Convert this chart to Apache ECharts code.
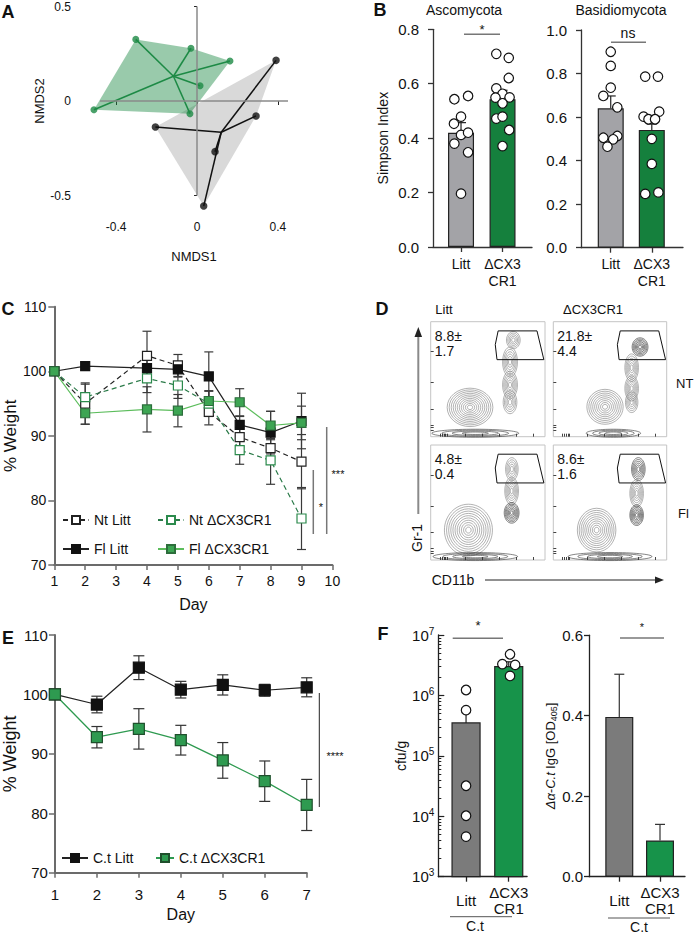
<!DOCTYPE html>
<html><head><meta charset="utf-8">
<script src="https://cdn.jsdelivr.net/npm/echarts@6/dist/echarts.min.js"></script>
<style>html,body{margin:0;padding:0;background:#fff}#c{width:694px;height:935px}</style>
</head><body><div id="c"></div>
<script>
// ================= DATA =================
// Panel A: NMDS ordination (NMDS1, NMDS2)
const nmdsLitt = [[0.391,0.215],[0.292,-0.079],[-0.206,-0.138],[0.089,-0.268],[0.033,-0.556]];
const nmdsCx3  = [[-0.303,0.326],[-0.030,0.279],[0.163,0.212],[0.015,0.081],[-0.510,-0.046],[-0.035,-0.067]];
const nmdsTicksX = [-0.4, 0, 0.4];
const nmdsTicksY = [-0.5, 0, 0.5];

// Panel B: Simpson index
const groups = ['Litt', 'ΔCX3\nCR1'];
const ascMean = [0.420, 0.543];
const ascSem  = [0.037, 0.033];
const ascLittPts = [0.543,0.555,0.479,0.453,0.412,0.420,0.380,0.348,0.196];
const ascLittJit = [-0.16,0.17,0,-0.17,0,0.17,-0.16,0.17,0];
const ascCx3Pts  = [0.710,0.695,0.621,0.583,0.563,0.549,0.550,0.528,0.472,0.479,0.430,0.371];
const ascCx3Jit  = [-0.15,0.15,0.15,-0.15,0,-0.17,0.17,0,-0.15,0,0.16,0];
const basMean = [0.640, 0.541];
const basSem  = [0.057, 0.027];
const basLittPts = [0.900,0.835,0.735,0.697,0.645,0.505,0.513,0.498,0.464];
const basLittJit = [0,0,0,-0.18,0.16,-0.18,0.16,0.06,-0.08];
const basCx3Pts  = [0.786,0.786,0.625,0.602,0.590,0.590,0.500,0.385,0.247,0.254];
const basCx3Jit  = [-0.16,0.15,0.18,-0.2,-0.08,0.08,0,0,-0.16,0.16];

// Panel C: % weight, DSS
const cDays = [1,2,4,5,6,7,8,9];
const ntLitt    = [100, 95.0, 102.4, 100.9, 93.7, 89.8, 88.1, 86.0];
const ntLittSem = [0, 3.2, 3.8, 1.7, 2.0, 1.5, 1.5, 4.2];
const ntCx3     = [100, 96.0, 98.9, 97.8, 95.0, 87.8, 86.2, 77.2];
const ntCx3Sem  = [0, 2.0, 2.2, 2.0, 2.0, 2.2, 3.7, 4.8];
const flLitt    = [100, 100.8, 100.5, 100.3, 99.2, 91.7, 90.5, 92.3];
const flLittSem = [0, 0.6, 1.5, 1.2, 3.8, 1.3, 3.3, 4.3];
const flCx3     = [100, 93.5, 94.1, 93.9, 95.4, 95.2, 91.6, 92.0];
const flCx3Sem  = [0, 1.7, 3.5, 2.5, 1.5, 2.1, 2.2, 2.6];

// Panel D: flow cytometry (population contours: cx, cy, rx, ry, rings, dark)
const flowNtLitt = [[0.344,0.255,0.20,0.167,11,0],[0.694,0.65,0.065,0.13,6,0],[0.694,0.45,0.065,0.12,6,0],[0.694,0.30,0.06,0.10,5,0],[0.723,0.84,0.06,0.075,5,0],[0.39,0.03,0.38,0.035,4,1]];
const flowNtCx3  = [[0.456,0.26,0.16,0.152,9,0],[0.691,0.60,0.06,0.12,6,0],[0.691,0.42,0.06,0.11,6,0],[0.691,0.30,0.055,0.09,5,0],[0.765,0.78,0.07,0.08,7,1],[0.53,0.03,0.24,0.035,4,1]];
const flowFlLitt = [[0.33,0.26,0.21,0.225,11,0],[0.71,0.79,0.055,0.10,5,0],[0.708,0.60,0.06,0.12,6,0],[0.708,0.41,0.065,0.09,7,1],[0.39,0.03,0.37,0.035,4,1]];
const flowFlCx3  = [[0.382,0.26,0.17,0.19,10,0],[0.75,0.79,0.06,0.10,6,1],[0.735,0.58,0.06,0.12,6,0],[0.735,0.39,0.06,0.09,7,1],[0.50,0.03,0.37,0.035,4,1]];
const flowGate = [[0.59,0.92],[0.93,0.92],[0.99,0.67],[0.58,0.67],[0.565,0.80]];
const flowStats = [['8.8±','1.7'],['21.8±','4.4'],['4.8±','0.4'],['8.6±','1.6']];

// Panel E: % weight, C. tropicalis
const eDays = [1,2,3,4,5,6,7];
const ctLitt    = [100, 98.3, 104.5, 100.8, 101.6, 100.7, 101.2];
const ctLittSem = [0, 1.4, 2.0, 1.4, 1.7, 1.0, 1.6];
const ctCx3     = [100, 92.8, 94.2, 92.3, 88.9, 85.4, 81.4];
const ctCx3Sem  = [0, 1.8, 3.4, 2.5, 3.0, 3.4, 4.3];

// Panel F
const cfuMean = [3.5e5, 3.0e6];
const cfuSem  = [2.5e5, 0.6e6];
const cfuLittPts = [1.23e6, 5.7e5, 3.2e4, 1.02e4, 4.6e3];
const cfuLittJit = [0,0,0,0,0];
const cfuCx3Pts  = [4.8e6, 3.3e6, 3.2e6, 2.1e6];
const cfuCx3Jit  = [0.03,-0.15,0.15,0.03];
const iggMean = [0.397, 0.090];
const iggSem  = [0.106, 0.040];

// ================= STYLE =================
const FONT = '"Liberation Sans", Arial, Helvetica, sans-serif';
const TXT = '#111';
const GRAY_B = '#a3a3a7', GREEN_B = '#15803d';
const GRAY_F = '#7b7b7b', GREEN_F = '#17934a';
const GREEN_A = '#1d8a45';

const grids = [
  {left:100, top:6.5, width:188, height:189},        // 0 A
  {left:433, top:29.3, width:99, height:217.7},      // 1 B asc
  {left:581, top:30, width:102, height:217.7},       // 2 B bas
  {left:54.3, top:306.7, width:278.1, height:258.3}, // 3 C
  {left:430.7, top:321.7, width:114.3, height:115, show:true, borderColor:'#c4c4c4', borderWidth:1}, // 4
  {left:553.3, top:321.7, width:113.4, height:115, show:true, borderColor:'#c4c4c4', borderWidth:1}, // 5
  {left:430.7, top:445, width:114.3, height:115, show:true, borderColor:'#c4c4c4', borderWidth:1},   // 6
  {left:553.3, top:445, width:113.4, height:115, show:true, borderColor:'#c4c4c4', borderWidth:1},   // 7
  {left:51, top:635, width:255.7, height:237.7},     // 8 E
  {left:438.3, top:635, width:88.8, height:241.7},   // 9 F cfu
  {left:589, top:635.2, width:96, height:241.5}      // 10 F igg
];

const lab = (o) => Object.assign({color:TXT, fontFamily:FONT, fontSize:14}, o);
function valAxis(gi, o){ return Object.assign({gridIndex:gi, type:'value', splitLine:{show:false}}, o); }

// ---------- helpers ----------
function errRender(color, capW, both, lw){
  return function(params, api){
    const x = api.value(0), y = api.value(1), e = api.value(2);
    if (!e) return null;
    const t = api.coord([x, y + e]);
    const b = api.coord([x, both ? y - e : y]);
    const st = {stroke:color, lineWidth:lw || 1.2, fill:'none'};
    const ch = [
      {type:'line', shape:{x1:t[0], y1:t[1], x2:b[0], y2:b[1]}, style:st},
      {type:'line', shape:{x1:t[0]-capW/2, y1:t[1], x2:t[0]+capW/2, y2:t[1]}, style:st}
    ];
    if (both) ch.push({type:'line', shape:{x1:b[0]-capW/2, y1:b[1], x2:b[0]+capW/2, y2:b[1]}, style:st});
    return {type:'group', children:ch};
  };
}
function errSeries(gi, xs, ys, es, color, cap, both, z){
  return {type:'custom', xAxisIndex:gi, yAxisIndex:gi, renderItem:errRender(color, cap, both),
    data: xs.map((x,i)=>[x, ys[i], es[i]]), encode:{x:0,y:1}, z:z||3, silent:true};
}
function dotSeries(gi, x0, pts, jit){
  return {type:'scatter', xAxisIndex:gi, yAxisIndex:gi, clip:false, symbolSize:9.5,
    itemStyle:{color:'#fff', borderColor:'#111', borderWidth:1.2, opacity:1},
    data: pts.map((v,i)=>[x0 + jit[i], v]), z:6, silent:true};
}
function barSeries(gi, means, colors, w){
  return {type:'bar', xAxisIndex:gi, yAxisIndex:gi, barWidth:w, silent:true,
    data: means.map((m,i)=>({value:[i+1, m], itemStyle:{color:colors[i], borderColor:'#222', borderWidth:1.2}})), z:2};
}
function hull(pts){
  const p = pts.slice().sort((a,b)=>a[0]-b[0]||a[1]-b[1]);
  const cr=(o,a,b)=>(a[0]-o[0])*(b[1]-o[1])-(a[1]-o[1])*(b[0]-o[0]);
  const lo=[]; for(const q of p){while(lo.length>=2&&cr(lo[lo.length-2],lo[lo.length-1],q)<=0)lo.pop();lo.push(q);}
  const up=[]; for(const q of p.slice().reverse()){while(up.length>=2&&cr(up[up.length-2],up[up.length-1],q)<=0)up.pop();up.push(q);}
  lo.pop(); up.pop(); return lo.concat(up);
}
const mean2 = (pts)=>[pts.reduce((s,p)=>s+p[0],0)/pts.length, pts.reduce((s,p)=>s+p[1],0)/pts.length];
function hullSeries(pts, fill){
  const h = hull(pts);
  return {type:'custom', xAxisIndex:0, yAxisIndex:0, silent:true, z:1, data:[mean2(pts)], encode:{x:0,y:1},
    renderItem:(params, api)=>({type:'polygon', shape:{points:h.map(p=>api.coord(p))}, style:{fill:fill}})};
}
function spiderSeries(pts, color){
  const c = mean2(pts);
  return {type:'custom', xAxisIndex:0, yAxisIndex:0, silent:true, z:3, data:pts, encode:{x:0,y:1},
    renderItem:(params, api)=>{
      const a = api.coord(c), b = api.coord([api.value(0), api.value(1)]);
      return {type:'line', shape:{x1:a[0],y1:a[1],x2:b[0],y2:b[1]}, style:{stroke:color, lineWidth:1.5}};
    }};
}
function flowSeries(gi, pops){
  return {type:'custom', xAxisIndex:gi, yAxisIndex:gi, silent:true, z:2, data:pops, encode:{x:0,y:1},
    renderItem:(params, api)=>{
      const c = api.coord([api.value(0), api.value(1)]);
      const s = api.size([api.value(2), api.value(3)]);
      const n = api.value(4), dark = api.value(5);
      const col = dark ? '#333' : '#7d7d7d';
      const ch = [];
      for (let k=0;k<n;k++){ const f = 1 - k/(n+0.3);
        ch.push({type:'ellipse', shape:{cx:c[0], cy:c[1], rx:s[0]*f, ry:s[1]*f}, style:{fill:'none', stroke:col, lineWidth:0.6}}); }
      return {type:'group', children:ch};
    }};
}
function gateSeries(gi){
  return {type:'custom', xAxisIndex:gi, yAxisIndex:gi, silent:true, z:4, data:[[0.5,0.5]], encode:{x:0,y:1},
    renderItem:(params, api)=>({type:'polygon', shape:{points:flowGate.map(p=>api.coord(p))}, style:{fill:'none', stroke:'#111', lineWidth:1}})};
}
function lineSeries(gi, name, xs, ys, st){
  return {name, type:'line', xAxisIndex:gi, yAxisIndex:gi, data: xs.map((d,i)=>[d, ys[i]]),
    symbol:'rect', symbolSize:st.size, showSymbol:true, z:5, silent:true,
    lineStyle:{color:st.line, width:st.lw||1.2, type: st.dash ? [5,3.5] : 'solid'},
    itemStyle:{color:st.fill, borderColor:st.border, borderWidth:1.2}};
}

// ---------- axes ----------
const xAxes = [], yAxes = [];
// A
xAxes.push(valAxis(0,{min:-0.48, max:0.45, offset:12, axisLine:{show:false},
  axisTick:{show:true, customValues:nmdsTicksX, length:4, lineStyle:{color:'#222'}},
  axisLabel:lab({customValues:nmdsTicksX, fontSize:12, margin:13}),
  name:'NMDS1', nameLocation:'middle', nameGap:42, nameTextStyle:lab({fontSize:13})}));
yAxes.push(valAxis(0,{min:-0.5, max:0.5, offset:27, axisLine:{show:false},
  axisTick:{show:true, customValues:nmdsTicksY, length:3, lineStyle:{color:'#222'}},
  axisLabel:lab({customValues:nmdsTicksY, fontSize:12, margin:2}),
  name:'NMDS2', nameLocation:'middle', nameGap:27, nameRotate:90, nameTextStyle:lab({fontSize:13})}));
// B
function bX(gi, mn, mx){ return valAxis(gi,{min:mn, max:mx, axisLine:{show:true, lineStyle:{color:'#333', width:1.3}},
  axisTick:{show:true, customValues:[1,2], length:5, lineStyle:{color:'#333', width:1.3}},
  axisLabel:lab({customValues:[1,2], formatter:(v)=>groups[Math.round(v)-1], margin:8, lineHeight:17})}); }
function bY(gi, mx, nm){ return valAxis(gi,{min:0, max:mx, interval:0.2, axisLine:{show:true, lineStyle:{color:'#333', width:1.3}},
  axisTick:{show:true, length:5, lineStyle:{color:'#333', width:1.3}},
  axisLabel:lab({formatter:(v)=>v.toFixed(1), margin:14, fontSize:15}),
  name:nm, nameLocation:'middle', nameGap:43, nameRotate:90, nameTextStyle:lab({fontSize:14})}); }
xAxes.push(bX(1, 0.325, 2.71)); yAxes.push(bY(1, 0.8, 'Simpson Index'));
xAxes.push(bX(2, 0.276, 2.76)); yAxes.push(bY(2, 1.0, ''));
// C
const axC = {color:'#6b6b6b', width:2};
xAxes.push(valAxis(3,{min:1, max:10, interval:1, axisLine:{show:true, lineStyle:axC},
  axisTick:{show:true, length:5, lineStyle:{color:'#6b6b6b', width:1.5}},
  axisLabel:lab({margin:9}), name:'Day', nameLocation:'middle', nameGap:31, nameTextStyle:lab({fontSize:16})}));
yAxes.push(valAxis(3,{min:70, max:110, interval:10, axisLine:{show:true, lineStyle:axC},
  axisTick:{show:true, length:6, lineStyle:{color:'#6b6b6b', width:1.5}},
  axisLabel:lab({margin:8}), name:'% Weight', nameLocation:'middle', nameGap:33, nameRotate:90, nameTextStyle:lab({fontSize:17})}));
// D
const dXt = [0.08,0.1,0.115,0.13,0.145,0.3,0.45,0.6,0.75,0.9];
const dYt = [0.06,0.08,0.1,0.24,0.47,0.74];
for (let g=4; g<=7; g++){
  xAxes.push(valAxis(g,{min:0, max:1, axisLine:{show:false}, axisLabel:{show:false},
    axisTick:{show:true, inside:true, length:3, customValues:dXt, lineStyle:{color:'#444'}}}));
  yAxes.push(valAxis(g,{min:0, max:1, axisLine:{show:false}, axisLabel:{show:false},
    axisTick:{show:true, inside:true, length:3, customValues:dYt, lineStyle:{color:'#444'}}}));
}
// E
xAxes.push(valAxis(8,{min:1, max:7, interval:1, axisLine:{show:true, lineStyle:axC},
  axisTick:{show:true, length:5, lineStyle:{color:'#6b6b6b', width:1.5}},
  axisLabel:lab({margin:14, fontSize:15}), name:'Day', nameLocation:'middle', nameGap:34, nameTextStyle:lab({fontSize:16})}));
yAxes.push(valAxis(8,{min:70, max:110, interval:10, axisLine:{show:true, lineStyle:axC},
  axisTick:{show:true, length:6, lineStyle:{color:'#6b6b6b', width:1.5}},
  axisLabel:lab({margin:7, fontSize:15}), name:'% Weight', nameLocation:'middle', nameGap:31, nameRotate:90, nameTextStyle:lab({fontSize:18})}));
// F cfu
function fX(gi, mn, mx){ return valAxis(gi,{min:mn, max:mx, axisLine:{show:true, lineStyle:{color:'#222', width:1.3}},
  axisTick:{show:true, customValues:[1,2], length:5, lineStyle:{color:'#222', width:1.3}},
  axisLabel:lab({customValues:[1,2], formatter:(v)=>groups[Math.round(v)-1], margin:24, verticalAlign:'middle', lineHeight:16, fontSize:15})}); }
xAxes.push(fX(9, 0.35, 2.43));
yAxes.push({gridIndex:9, type:'log', logBase:10, min:1e3, max:1e7, position:'left', splitLine:{show:false},
  axisLine:{show:true, lineStyle:{color:'#222', width:1.3}},
  axisTick:{show:true, inside:true, length:6, lineStyle:{color:'#222', width:1.2}},
  axisLabel:{margin:4, formatter:(v)=>'{b|10}{s|' + Math.round(Math.log10(v)) + '}',
    rich:{b:{fontSize:15, fontFamily:FONT, color:TXT, lineHeight:18}, s:{fontSize:10, fontFamily:FONT, color:TXT, verticalAlign:'top', lineHeight:18, padding:[0,0,7,0]}}},
  name:'cfu/g', nameLocation:'middle', nameGap:30, nameRotate:90, nameTextStyle:lab({fontSize:14})});
// F igg
xAxes.push(fX(10, 0.256, 2.614));
yAxes.push(valAxis(10,{min:0, max:0.6, interval:0.2, axisLine:{show:true, lineStyle:{color:'#222', width:1.3}},
  axisTick:{show:true, length:5, lineStyle:{color:'#222', width:1.3}},
  axisLabel:lab({formatter:(v)=>v.toFixed(1), margin:6, fontSize:15}),
  name:'{i|Δα-C.t} {n|IgG [OD}{s|405}{n|]}', nameLocation:'middle', nameGap:24, nameRotate:90,
  nameTextStyle:{rich:{i:{fontSize:13, fontStyle:'italic', fontFamily:FONT, color:TXT, lineHeight:16},
    n:{fontSize:13, fontFamily:FONT, color:TXT, lineHeight:16}, s:{fontSize:9, fontFamily:FONT, color:TXT, lineHeight:16, verticalAlign:'bottom', padding:[6,0,0,0]}}}}));
// F cfu minor log ticks (index 11), on the same left axis position
const cfuMinor = [];
[1e3,1e4,1e5,1e6].forEach(d=>[2,3,4,5,6,7,8,9].forEach(m=>cfuMinor.push(m*d)));
yAxes.push({gridIndex:9, type:'log', logBase:10, min:1e3, max:1e7, position:'left', offset:0, splitLine:{show:false}, axisLine:{show:false}, axisLabel:{show:false},
  axisTick:{show:true, inside:true, length:3, customValues:cfuMinor, lineStyle:{color:'#222', width:1}}});

// ---------- series ----------
const series = [];
// A
series.push(hullSeries(nmdsLitt, '#d9d9d9'));
series.push(hullSeries(nmdsCx3, 'rgba(29,138,69,0.45)'));
series.push({type:'scatter', xAxisIndex:0, yAxisIndex:0, data:[], silent:true,
  markLine:{silent:true, symbol:'none', label:{show:false}, lineStyle:{color:'#8a8a8a', width:1.5, type:'solid'}, data:[{xAxis:0},{yAxis:0}]}, z:2});
series.push(spiderSeries(nmdsLitt, '#111'));
series.push(spiderSeries(nmdsCx3, GREEN_A));
series.push({type:'scatter', xAxisIndex:0, yAxisIndex:0, clip:false, symbolSize:7.5, data:nmdsLitt, itemStyle:{color:'#111'}, z:4, silent:true});
series.push({type:'scatter', xAxisIndex:0, yAxisIndex:0, clip:false, symbolSize:7, data:nmdsCx3, itemStyle:{color:GREEN_A}, z:4, silent:true});
// B
series.push(barSeries(1, ascMean, [GRAY_B, GREEN_B], 26));
series.push(errSeries(1, [1,2], ascMean, ascSem, '#222', 10, false));
series.push(dotSeries(1, 1, ascLittPts, ascLittJit));
series.push(dotSeries(1, 2, ascCx3Pts, ascCx3Jit));
series.push(barSeries(2, basMean, [GRAY_B, GREEN_B], 26));
series.push(errSeries(2, [1,2], basMean, basSem, '#222', 10, false));
series.push(dotSeries(2, 1, basLittPts, basLittJit));
series.push(dotSeries(2, 2, basCx3Pts, basCx3Jit));
// C
series.push(errSeries(3, cDays, ntLitt, ntLittSem, '#3a3a3a', 9, true, 3));
series.push(errSeries(3, cDays, ntCx3, ntCx3Sem, '#3a3a3a', 9, true, 3));
series.push(errSeries(3, cDays, flLitt, flLittSem, '#3a3a3a', 9, true, 3));
series.push(errSeries(3, cDays, flCx3, flCx3Sem, '#3a3a3a', 9, true, 3));
series.push(lineSeries(3, 'Nt Litt', cDays, ntLitt, {size:9, line:'#222', dash:true, fill:'#fff', border:'#222'}));
series.push(lineSeries(3, 'Nt ΔCX3CR1', cDays, ntCx3, {size:9, line:'#2a7a48', dash:true, fill:'#fff', border:'#2b8a4c'}));
series.push(lineSeries(3, 'Fl Litt', cDays, flLitt, {size:9, line:'#222', dash:false, fill:'#111', border:'#111'}));
series.push(lineSeries(3, 'Fl ΔCX3CR1', cDays, flCx3, {size:9, line:'#5cbd5c', dash:false, fill:'#3da553', border:'#2d6e3c'}));
// D
[flowNtLitt, flowNtCx3, flowFlLitt, flowFlCx3].forEach((pops, k)=>{ series.push(flowSeries(4+k, pops)); series.push(gateSeries(4+k)); });
// E
series.push(errSeries(8, eDays, ctLitt, ctLittSem, '#333', 11, true, 3));
series.push(errSeries(8, eDays, ctCx3, ctCx3Sem, '#333', 11, true, 3));
series.push(lineSeries(8, 'C.t Litt', eDays, ctLitt, {size:11, line:'#222', lw:1.2, fill:'#111', border:'#111'}));
series.push(lineSeries(8, 'C.t ΔCX3CR1', eDays, ctCx3, {size:11, line:'#2e9a50', lw:1.3, fill:'#2e9a50', border:'#1f4f2c'}));
// F cfu (log) bars drawn through the log scale
series.push({type:'custom', xAxisIndex:9, yAxisIndex:9, silent:true, z:2, data:cfuMean.map((m,i)=>[i+1, m]), encode:{x:0,y:1},
  renderItem:(params, api)=>{
    const t = api.coord([api.value(0), api.value(1)]), b = api.coord([api.value(0), 1e3]);
    const cols = [GRAY_F, GREEN_F];
    return {type:'rect', shape:{x:t[0]-14, y:t[1], width:28, height:b[1]-t[1]}, style:{fill:cols[params.dataIndex], stroke:'#222', lineWidth:1.2}};
  }});
series.push(errSeries(9, [1,2], cfuMean, cfuSem, '#222', 10, false));
series.push(dotSeries(9, 1, cfuLittPts, cfuLittJit));
series.push(dotSeries(9, 2, cfuCx3Pts, cfuCx3Jit));
// F igg
series.push(barSeries(10, iggMean, [GRAY_F, GREEN_F], 28));
series.push(errSeries(10, [1,2], iggMean, iggSem, '#333', 10, false));

// ---------- legends ----------
const legCommon = {orient:'horizontal', padding:0, itemGap:0, itemWidth:26, itemHeight:10, selectedMode:false,
  textStyle:{fontSize:14, color:TXT, fontFamily:FONT}};
const legends = [
  Object.assign({left:62, top:513, data:['Nt Litt']}, legCommon),
  Object.assign({left:157, top:513, data:['Nt ΔCX3CR1']}, legCommon),
  Object.assign({left:62, top:542, data:['Fl Litt']}, legCommon),
  Object.assign({left:157, top:542, data:['Fl ΔCX3CR1']}, legCommon),
  Object.assign({left:61, top:851, data:['C.t Litt']}, legCommon),
  Object.assign({}, legCommon, {left:155, top:851, itemWidth:18, data:['C.t ΔCX3CR1']})
];

// ---------- annotations ----------
function T(text, x, y, o){ o = o || {};
  return {type:'text', x:x, y:y, rotation:o.rot||0, silent:true, z:50,
    style:{text:text, fill:o.color||TXT, font:(o.weight||'normal')+' '+(o.style||'normal')+' '+(o.size||14)+'px '+(o.family||FONT),
      align:o.align||'center', verticalAlign:'middle', textAlign:o.align||'center', textVerticalAlign:'middle'}}; }
function L(x1,y1,x2,y2,color,w){ return {type:'line', silent:true, z:50, shape:{x1,y1,x2,y2}, style:{stroke:color||'#777', lineWidth:w||1.5}}; }
const LET = {weight:'bold', size:18, family:'"Liberation Sans Narrow", "Liberation Sans", Arial, sans-serif'};
const graphic = [
  T('A', 8, 12, LET), T('B', 380, 10, LET), T('C', 8, 309, LET), T('D', 382, 309, LET), T('E', 8, 638, LET), T('F', 383, 634, LET),
  T('Ascomycota', 464, 10), T('Basidiomycota', 621, 10),
  L(464,34.3,500,34.3,'#777',1.5), T('*', 482, 29, {size:13}),
  L(611,42.3,646,42.3,'#777',1.5), T('ns', 628, 33, {size:14}),
  L(313.3,470,313.3,534,'#777',1.5), T('*', 321, 507, {size:11}),
  L(326.7,427,326.7,534,'#777',1.5), T('***', 338, 474, {size:11}),
  L(319.3,693,319.3,807,'#222',1), T('****', 335, 756, {size:11}),
  L(452.7,638.3,503,638.3,'#777',1.5), T('*', 478, 625, {size:13}),
  L(620,638,664,638,'#777',1.5), T('*', 642, 627, {size:11}),
  L(450,916.7,512,916.7,'#555',1), T('C.t', 475, 926, {size:14}),
  L(608,918,670,918,'#555',1), T('C.t', 639, 927, {size:14}),
  // D labels
  T('Litt', 444, 309, {size:13}), T('ΔCX3CR1', 593, 309, {size:13}),
  T('NT', 676, 383, {size:13, align:'left'}), T('Fl', 678, 513, {size:13, align:'left'}),
  L(418.3,336,418.3,514,'#8a8a8a',2),
  {type:'polygon', silent:true, z:50, shape:{points:[[414.5,337],[422.1,337],[418.3,327]]}, style:{fill:'#222'}},
  T('Gr-1', 416.7, 538, {size:14, rot:Math.PI/2}),
  T('CD11b', 453, 580, {size:14}),
  L(485,580,656,580,'#222',1),
  {type:'polygon', silent:true, z:50, shape:{points:[[655,576.5],[655,583.5],[664,580]]}, style:{fill:'#222'}}
];
[[430.7,321.7],[553.3,321.7],[430.7,445],[553.3,445]].forEach((p,k)=>{
  graphic.push(T(flowStats[k][0], p[0]+4, p[1]+14, {size:14, align:'left'}));
  graphic.push(T(flowStats[k][1], p[0]+4, p[1]+29, {size:14, align:'left'}));
});

const chart = echarts.init(document.getElementById('c'), null, {renderer:'svg', width:694, height:935});
chart.setOption({
  animation:false, backgroundColor:'#fff', textStyle:{fontFamily:FONT},
  grid:grids, xAxis:xAxes, yAxis:yAxes, series:series, legend:legends, graphic:graphic
});
</script></body></html>
